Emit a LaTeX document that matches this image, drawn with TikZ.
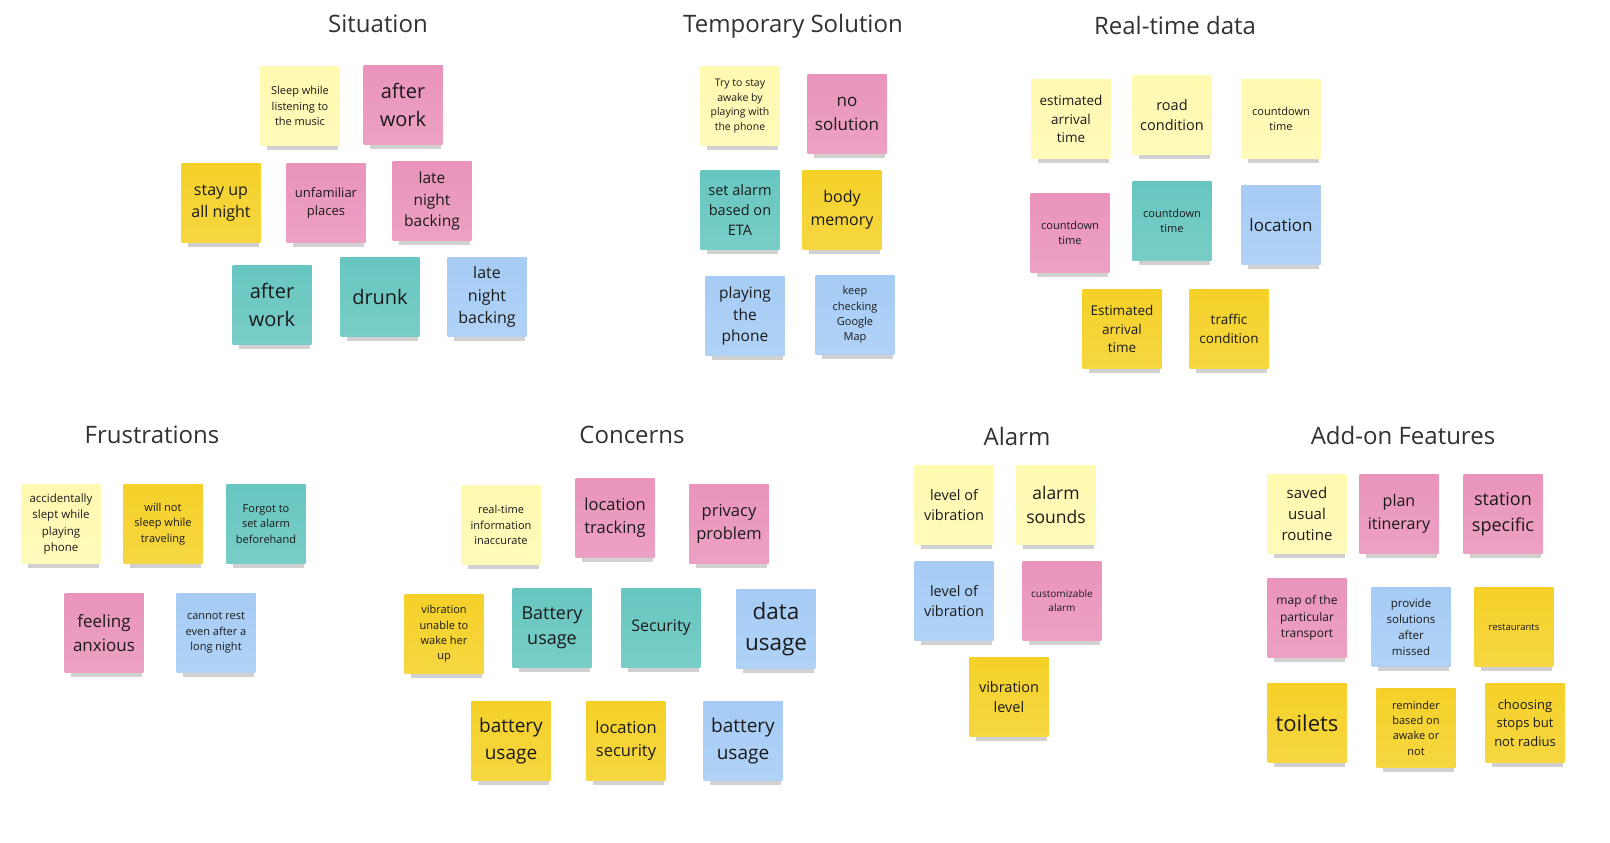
\documentclass[tikz,border=0pt]{standalone}
\usepackage{fontspec}
\setmainfont{Open Sans}
\usetikzlibrary{shadows}
\definecolor{lyel}{HTML}{FFF9B1}
\definecolor{yel}{HTML}{F5D128}
\definecolor{pnk}{HTML}{EA94BB}
\definecolor{tea}{HTML}{67C6C0}
\definecolor{blu}{HTML}{A6CCF5}
\definecolor{ink}{HTML}{1A1A1A}
\newcommand{\fs}[1]{\fontsize{#1}{\fpeval{1.4*#1}}\selectfont}

\begin{document}
\begin{tikzpicture}[x=1pt,y=-1pt,
  note/.style={minimum width=79pt,minimum height=79pt,inner sep=1pt,align=center,text=ink,
    top color=#1,bottom color=#1!88!white,
    drop shadow={shadow xshift=3pt,shadow yshift=-9pt,shadow scale=.9,fill=black,opacity=.18},
    drop shadow={shadow xshift=3pt,shadow yshift=-7.5pt,shadow scale=.86,fill=black,opacity=.35}},
  ttl/.style={font=\fs{24},text=ink!90}]
\useasboundingbox (0,0) rectangle (1610,843);
% titles
\node[ttl] (tSit) at (378,24) {Situation};
\node[ttl] (tTmp) at (793,26) {Temporary Solution};
\node[ttl] (tRt) at (1175,26) {Real-time data};
\node[ttl] (tFr) at (152,435) {Frustrations};
\node[ttl] (tCon) at (632,435) {Concerns};
\node[ttl] (tAl) at (1017,436) {Alarm};
\node[ttl] (tAdd) at (1403,435) {Add-on Features};
% Situation
\node[note=lyel,font=\fs{11}] (s1) at (300,106) {Sleep while\\listening to\\the music};
\node[note=pnk,font=\fs{20}] (s2) at (403,105) {after\\work};
\node[note=yel,font=\fs{16}] (s3) at (221,203) {stay up\\all night};
\node[note=pnk,font=\fs{13}] (s4) at (326,203) {unfamiliar\\places};
\node[note=pnk,font=\fs{15.5}] (s5) at (432,201) {late\\night\\backing};
\node[note=tea,font=\fs{20}] (s6) at (272,305) {after\\work};
\node[note=tea,font=\fs{20}] (s7) at (380,297) {drunk};
\node[note=blu,font=\fs{16}] (s8) at (487,297) {late\\night\\backing};
% Temporary Solution
\node[note=lyel,font=\fs{10.5}] (t1) at (740,106) {Try to stay\\awake by\\playing with\\the phone};
\node[note=pnk,font=\fs{17}] (t2) at (847,114) {no\\solution};
\node[note=tea,font=\fs{14.5}] (t3) at (740,210) {set alarm\\based on\\ETA};
\node[note=yel,font=\fs{16}] (t4) at (842,210) {body\\memory};
\node[note=blu,font=\fs{15.5}] (t5) at (745,316) {playing\\the\\phone};
\node[note=blu,font=\fs{11}] (t6) at (855,315) {keep\\checking\\Google\\Map};
% Real-time data
\node[note=lyel,font=\fs{13.5}] (r1) at (1071,119) {estimated\\arrival\\time};
\node[note=lyel,font=\fs{14.5}] (r2) at (1172,115) {road\\condition};
\node[note=lyel,font=\fs{11}] (r3) at (1281,119) {countdown\\time};
\node[note=pnk,font=\fs{11}] (r4) at (1070,233) {countdown\\time};
\node[note=tea,font=\fs{11}] (r5) at (1172,221) {countdown\\time};
\node[note=blu,font=\fs{17}] (r6) at (1281,225) {location};
\node[note=yel,font=\fs{13.5}] (r7) at (1122,329) {Estimated\\arrival\\time};
\node[note=yel,font=\fs{13.5}] (r8) at (1229,329) {traffic\\condition};
% Frustrations
\node[note=lyel,font=\fs{11.5}] (f1) at (61,524) {accidentally\\slept while\\playing\\phone};
\node[note=yel,font=\fs{11}] (f2) at (163,524) {will not\\sleep while\\traveling};
\node[note=tea,font=\fs{11}] (f3) at (266,524) {Forgot to\\set alarm\\beforehand};
\node[note=pnk,font=\fs{17}] (f4) at (104,633) {feeling\\anxious};
\node[note=blu,font=\fs{11}] (f5) at (216,633) {cannot rest\\even after a\\long night};
% Concerns
\node[note=lyel,font=\fs{11}] (c1) at (501,525) {real-time\\information\\inaccurate};
\node[note=pnk,font=\fs{16.5}] (c2) at (615,518) {location\\tracking};
\node[note=pnk,font=\fs{16.5}] (c3) at (729,524) {privacy\\problem};
\node[note=yel,font=\fs{11}] (c4) at (444,634) {vibration\\unable to\\wake her\\up};
\node[note=tea,font=\fs{18}] (c5) at (552,628) {Battery\\usage};
\node[note=tea,font=\fs{16}] (c6) at (661,628) {Security};
\node[note=blu,font=\fs{22.5}] (c7) at (776,629) {data\\usage};
\node[note=yel,font=\fs{19}] (c8) at (511,741) {battery\\usage};
\node[note=yel,font=\fs{16.5}] (c9) at (626,741) {location\\security};
\node[note=blu,font=\fs{19}] (c10) at (743,741) {battery\\usage};
% Alarm
\node[note=lyel,font=\fs{14.5}] (a1) at (954,505) {level of\\vibration};
\node[note=lyel,font=\fs{17.5}] (a2) at (1056,505) {alarm\\sounds};
\node[note=blu,font=\fs{14.5}] (a3) at (954,601) {level of\\vibration};
\node[note=pnk,font=\fs{10}] (a4) at (1062,601) {customizable\\alarm};
\node[note=yel,font=\fs{14.5}] (a5) at (1009,697) {vibration\\level};
% Add-on Features
\node[note=lyel,font=\fs{15}] (d1) at (1307,514) {saved\\usual\\routine};
\node[note=pnk,font=\fs{16}] (d2) at (1399,514) {plan\\itinerary};
\node[note=pnk,font=\fs{18}] (d3) at (1503,514) {station\\specific};
\node[note=pnk,font=\fs{12}] (d4) at (1307,618) {map of the\\particular\\transport};
\node[note=blu,font=\fs{11.5}] (d5) at (1411,627) {provide\\solutions\\after\\missed};
\node[note=yel,font=\fs{9.5}] (d6) at (1514,627) {restaurants};
\node[note=yel,font=\fs{22}] (d7) at (1307,723) {toilets};
\node[note=yel,font=\fs{11}] (d8) at (1416,728) {reminder\\based on\\awake or\\not};
\node[note=yel,font=\fs{13}] (d9) at (1525,723) {choosing\\stops but\\not radius};
\end{tikzpicture}
\end{document}
